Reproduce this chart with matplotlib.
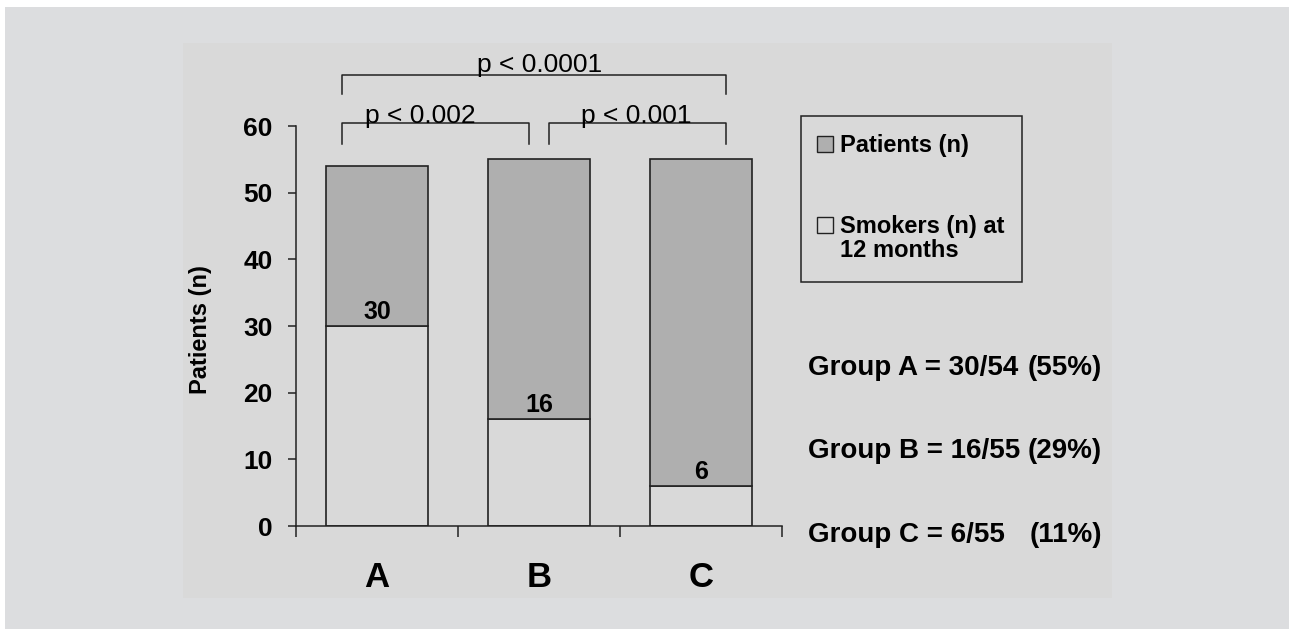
import matplotlib
matplotlib.use("Agg")
import matplotlib.pyplot as plt
from matplotlib.patches import Rectangle

plt.rcParams["font.family"] = ["Liberation Sans", "DejaVu Sans"]

# Data
groups = ["A", "B", "C"]
patients = [54, 55, 55]
smokers = [30, 16, 6]
pct = [55, 29, 11]
p_labels = ["p < 0.002", "p < 0.001", "p < 0.0001"]

W, H = 1289, 629
fig = plt.figure(figsize=(W / 100, H / 100), dpi=100)
fig.patch.set_facecolor("#dcdddf")


def fx(px):
    return px / W


def fy(py):
    return 1 - py / H


# white strips at top / left and the inner panel
fig.patches.append(Rectangle((0, fy(7)), 1, 1 - fy(7), transform=fig.transFigure,
                             facecolor="white", edgecolor="none", zorder=-2))
fig.patches.append(Rectangle((0, 0), fx(5), 1, transform=fig.transFigure,
                             facecolor="white", edgecolor="none", zorder=-2))
fig.patches.append(Rectangle((fx(183), fy(598)), fx(1112) - fx(183), fy(43) - fy(598),
                             transform=fig.transFigure, facecolor="#d9d9d9",
                             edgecolor="none", zorder=-1))

ax = fig.add_axes([fx(296), fy(526), fx(782) - fx(296), fy(126) - fy(526)])
ax.set_facecolor("none")
ax.set_zorder(2)

lc = "#222222"
xpos = [i + 0.5 for i in range(len(groups))]
rest = [p - s for p, s in zip(patients, smokers)]
ax.bar(xpos, smokers, width=0.625, color="#d9d9d9", edgecolor=lc, linewidth=1.2)
ax.bar(xpos, rest, bottom=smokers, width=0.625, color="#afafaf", edgecolor=lc,
       linewidth=1.2)

for x, s in zip(xpos, smokers):
    ax.text(x, s + 1.05, str(s), ha="center", va="baseline", fontsize=18,
            fontweight="bold")

ax.set_xlim(0, 3)
ax.set_ylim(0, 60)
ax.set_yticks(range(0, 61, 10))
ax.set_xticks([0, 1, 2, 3])
ax.set_xticklabels([])
ax.set_xticks(xpos, minor=True)
ax.set_xticklabels(groups, minor=True, fontsize=25, fontweight="bold")
ax.tick_params(axis="x", which="major", direction="out", length=8, width=1.1, color=lc)
ax.tick_params(axis="x", which="minor", length=0, pad=25)
ax.tick_params(axis="y", direction="out", length=6, width=1.1, color=lc, pad=11,
               labelsize=19)
for lab in ax.get_yticklabels():
    lab.set_fontweight("bold")
for side in ["top", "right"]:
    ax.spines[side].set_visible(False)
for side in ["left", "bottom"]:
    ax.spines[side].set_color(lc)
    ax.spines[side].set_linewidth(1.1)

ax.set_ylabel("Patients (n)", fontsize=17, fontweight="bold")
ax.yaxis.set_label_coords(-0.172, 0.49)

# significance brackets
brackets = [(xpos[0] - 0.216, xpos[1] - 0.062, 60.45, 57.3, 0.765, 60.45),
            (xpos[1] + 0.062, xpos[2] + 0.154, 60.45, 57.3, 2.10, 60.45),
            (xpos[0] - 0.216, xpos[2] + 0.154, 67.65, 64.8, 1.506, 68.1)]
for (x0, x1, ytop, yleg, tx, ty), lab in zip(brackets, p_labels):
    ax.plot([x0, x0, x1, x1], [yleg, ytop, ytop, yleg], color=lc, linewidth=1.1,
            clip_on=False)
    ax.text(tx, ty, lab, ha="center", va="baseline", fontsize=19)

# legend box
fig.patches.append(Rectangle((fx(801), fy(282)), fx(1022) - fx(801), fy(116) - fy(282),
                             transform=fig.transFigure, facecolor="none",
                             edgecolor=lc, linewidth=1.1))
fig.patches.append(Rectangle((fx(817), fy(152)), fx(833) - fx(817), fy(136) - fy(152),
                             transform=fig.transFigure, facecolor="#afafaf",
                             edgecolor=lc, linewidth=1.0))
fig.patches.append(Rectangle((fx(817), fy(233)), fx(833) - fx(817), fy(217) - fy(233),
                             transform=fig.transFigure, facecolor="#d9d9d9",
                             edgecolor=lc, linewidth=1.0))
fig.text(fx(840), fy(152), "Patients (n)", fontsize=17, fontweight="bold",
         va="baseline")
fig.text(fx(840), fy(233), "Smokers (n) at", fontsize=17, fontweight="bold",
         va="baseline")
fig.text(fx(840), fy(257), "12 months", fontsize=17, fontweight="bold",
         va="baseline")

# group summaries
for g, s, n, p, yb in zip(groups, smokers, patients, pct, [375, 458, 542]):
    fig.text(fx(808), fy(yb), f"Group {g} = {s}/{n}", fontsize=20, fontweight="bold",
             va="baseline")
    fig.text(fx(1102), fy(yb), f"({p}%)", fontsize=20, fontweight="bold",
             va="baseline", ha="right")

fig.savefig("out.png", dpi=100, facecolor=fig.get_facecolor())
